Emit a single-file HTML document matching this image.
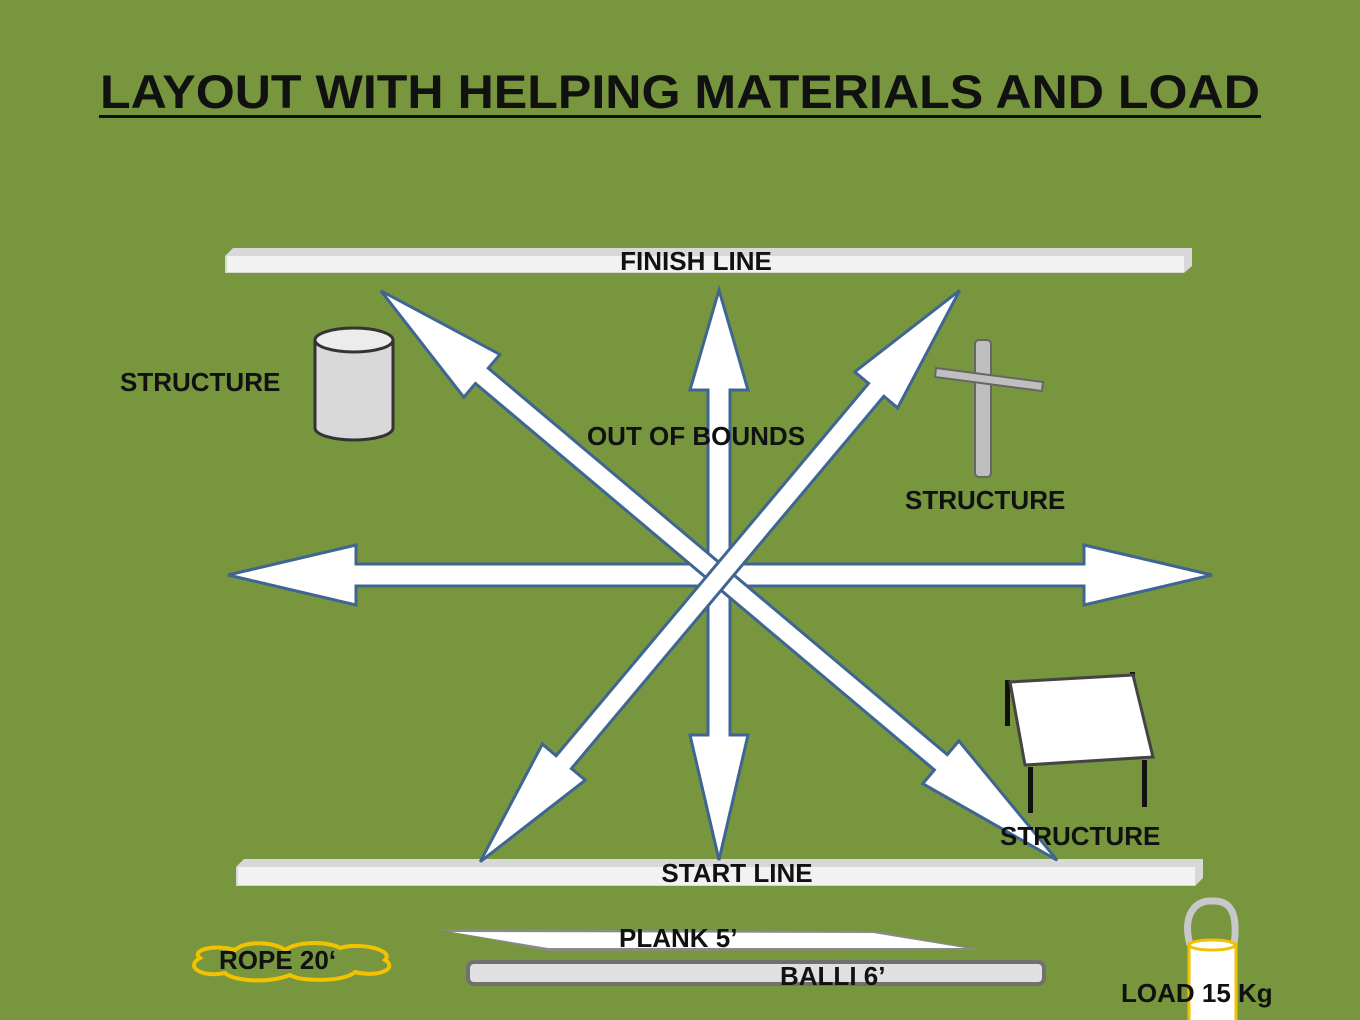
<!DOCTYPE html>
<html><head><meta charset="utf-8"><style>
html,body{margin:0;padding:0;background:#77963e;}
svg{display:block;}
text{font-family:"Liberation Sans",sans-serif;font-weight:bold;fill:#111;}
</style></head><body>
<svg width="1360" height="1020" viewBox="0 0 1360 1020" xmlns="http://www.w3.org/2000/svg">
<rect width="1360" height="1020" fill="#77963e"/>
<text x="680" y="108" font-size="47" text-anchor="middle" textLength="1160" lengthAdjust="spacingAndGlyphs">LAYOUT WITH HELPING MATERIALS AND LOAD</text>
<rect x="99" y="115" width="1162" height="3" fill="#111"/>

<!-- finish line -->
<polygon points="225,256 233,248 1192,248 1192,266 1184,273 225,273" fill="#d8d8d8"/>
<rect x="227" y="256" width="957" height="16" fill="#f2f2f2"/>
<!-- start line -->
<polygon points="236,867 244,859 1203,859 1203,878 1195,886 236,886" fill="#d8d8d8"/>
<rect x="238" y="867" width="957" height="18" fill="#f2f2f2"/>

<!-- arrows -->
<g fill="#fff" stroke="#3f6592" stroke-width="3" stroke-linejoin="miter">
<g transform="translate(720,575)"><polygon points="-492,0 -364,-30 -364,-11 364,-11 364,-30 492,0 364,30 364,11 -364,11 -364,30"/></g>
<g transform="translate(719,575) rotate(90)"><polygon points="-285,0 -185,-29 -185,-11 160,-11 160,-29 285,0 160,29 160,11 -185,11 -185,29"/></g>
<g transform="translate(719,575.5) rotate(40.1)"><polygon points="-442,0 -310,-28 -310,-10 290,-10 290,-28 442,0 290,28 290,10 -310,10 -310,28"/></g>
<g transform="translate(720,576) rotate(130)"><polygon points="-373,0 -243,-28 -243,-10 243,-10 243,-28 373,0 243,28 243,10 -243,10 -243,28"/></g>
</g>

<text x="696" y="270" font-size="26" text-anchor="middle">FINISH LINE</text>
<text x="737" y="882" font-size="26" text-anchor="middle">START LINE</text>
<text x="696" y="445" font-size="26" text-anchor="middle">OUT OF BOUNDS</text>
<text x="120" y="391" font-size="26">STRUCTURE</text>
<text x="905" y="509" font-size="26">STRUCTURE</text>
<text x="1000" y="845" font-size="26">STRUCTURE</text>

<!-- cylinder -->
<path d="M315,340 L315,428 A39,12 0 0 0 393,428 L393,340" fill="#d9d9d9" stroke="#333" stroke-width="3"/>
<ellipse cx="354" cy="340" rx="39" ry="12" fill="#ececec" stroke="#333" stroke-width="3"/>

<!-- cross -->
<rect x="975" y="340" width="16" height="137" rx="4" fill="#bfbfbf" stroke="#666" stroke-width="2"/>
<polygon points="936,368 1043,382 1042,391 935,377" fill="#bfbfbf" stroke="#666" stroke-width="2"/>

<!-- table -->
<rect x="1005" y="680" width="5" height="46" fill="#111"/>
<rect x="1130" y="672" width="5" height="46" fill="#111"/>
<polygon points="1010,682 1133,675 1153,757 1025,765" fill="#fff" stroke="#444" stroke-width="3"/>
<rect x="1028" y="767" width="5" height="46" fill="#111"/>
<rect x="1142" y="760" width="5" height="47" fill="#111"/>

<!-- plank -->
<polygon points="437,929 875,931 983,950 548,951" fill="#8a8a8a"/>
<polygon points="452,932 873,933 965,948 548,948" fill="#fff"/>
<!-- balli -->
<rect x="468" y="962" width="576" height="22" rx="6" fill="#e0e0e0" stroke="#707070" stroke-width="4"/>
<text x="619" y="947" font-size="26">PLANK 5’</text>
<text x="780" y="985" font-size="26">BALLI  6’</text>

<!-- rope -->
<g fill="none" stroke="#f2c200" stroke-width="4">
<path d="M200,958 C190,950 215,944 235,950 C245,940 275,942 285,950 C300,940 330,942 340,948 C360,942 395,950 385,960 C398,968 380,978 355,972 C345,982 300,982 290,975 C270,983 235,982 225,973 C200,978 185,966 200,958 Z"/>
</g>
<text x="219" y="969" font-size="26">ROPE  20‘</text>

<!-- load -->
<path d="M1190,945 C1182,915 1195,900 1212,901 C1232,900 1238,915 1234,945" fill="none" stroke="#c8c8c8" stroke-width="7"/>
<rect x="1189" y="944" width="47" height="80" fill="#fff" stroke="#f2c200" stroke-width="3"/>
<ellipse cx="1212" cy="945" rx="23" ry="5" fill="#fff" stroke="#f2c200" stroke-width="3"/>
<text x="1121" y="1002" font-size="26">LOAD 15 Kg</text>
</svg>
</body></html>
